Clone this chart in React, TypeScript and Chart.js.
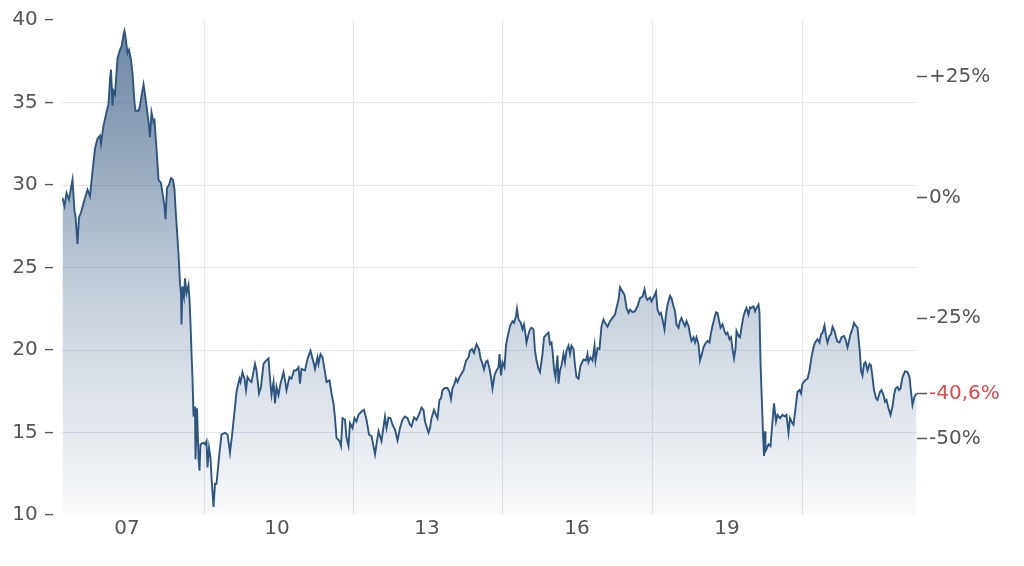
import { useEffect, useRef } from "react";
import Chart from "chart.js/auto";

// dates as decimal years, prices
const DATES = [
  2005.71, 2005.75, 2005.79, 2005.84, 2005.91, 2005.95, 2005.97, 2006.01, 2006.04, 2006.08,
  2006.15, 2006.21, 2006.26, 2006.31, 2006.36, 2006.41, 2006.46, 2006.48, 2006.53, 2006.56,
  2006.59, 2006.63, 2006.66, 2006.68, 2006.71, 2006.73, 2006.76, 2006.81, 2006.86, 2006.89,
  2006.93, 2006.95, 2006.97, 2007.01, 2007.04, 2007.08, 2007.11, 2007.15, 2007.17, 2007.23,
  2007.26, 2007.29, 2007.33, 2007.36, 2007.39, 2007.44, 2007.46, 2007.49, 2007.53, 2007.55,
  2007.59, 2007.63, 2007.68, 2007.71, 2007.75, 2007.77, 2007.8, 2007.84, 2007.88, 2007.92,
  2007.95, 2007.97, 2008.0, 2008.03, 2008.06, 2008.08, 2008.09, 2008.11, 2008.14, 2008.16,
  2008.19, 2008.23, 2008.25, 2008.27, 2008.29, 2008.31, 2008.33, 2008.36, 2008.37, 2008.4,
  2008.43, 2008.45, 2008.47, 2008.53, 2008.56, 2008.59, 2008.61, 2008.64, 2008.67, 2008.69,
  2008.73, 2008.76, 2008.79, 2008.84, 2008.89, 2008.96, 2009.01, 2009.06, 2009.11, 2009.16,
  2009.19, 2009.25, 2009.27, 2009.31, 2009.35, 2009.38, 2009.41, 2009.45, 2009.49, 2009.56,
  2009.59, 2009.64, 2009.68, 2009.73, 2009.78, 2009.83, 2009.86, 2009.89, 2009.93, 2009.96,
  2009.99, 2010.03, 2010.07, 2010.13, 2010.16, 2010.19, 2010.25, 2010.29, 2010.34, 2010.38,
  2010.43, 2010.46, 2010.49, 2010.56, 2010.61, 2010.67, 2010.73, 2010.76, 2010.81, 2010.83,
  2010.87, 2010.91, 2010.96, 2010.99, 2011.05, 2011.09, 2011.13, 2011.16, 2011.19, 2011.25,
  2011.28, 2011.31, 2011.36, 2011.39, 2011.43, 2011.46, 2011.51, 2011.55, 2011.59, 2011.63,
  2011.69, 2011.74, 2011.79, 2011.84, 2011.89, 2011.93, 2011.96, 2011.99, 2012.03, 2012.09,
  2012.16, 2012.19, 2012.23, 2012.27, 2012.31, 2012.36, 2012.41, 2012.46, 2012.51, 2012.56,
  2012.61, 2012.66, 2012.69, 2012.74, 2012.79, 2012.85, 2012.89, 2012.93, 2012.96, 2013.03,
  2013.06, 2013.09, 2013.14, 2013.18, 2013.21, 2013.25, 2013.28, 2013.31, 2013.36, 2013.41,
  2013.45, 2013.48, 2013.51, 2013.54, 2013.58, 2013.61, 2013.65, 2013.69, 2013.73, 2013.78,
  2013.83, 2013.86, 2013.9, 2013.94, 2013.99, 2014.04, 2014.07, 2014.11, 2014.14, 2014.18,
  2014.21, 2014.25, 2014.28, 2014.31, 2014.35, 2014.39, 2014.43, 2014.45, 2014.48, 2014.51,
  2014.55, 2014.58, 2014.61, 2014.66, 2014.71, 2014.74, 2014.78, 2014.8, 2014.83, 2014.87,
  2014.91, 2014.94, 2014.97, 2014.99, 2015.03, 2015.06, 2015.09, 2015.13, 2015.16, 2015.19,
  2015.23, 2015.26, 2015.31, 2015.34, 2015.39, 2015.43, 2015.46, 2015.49, 2015.51, 2015.54,
  2015.57, 2015.61, 2015.63, 2015.66, 2015.69, 2015.73, 2015.76, 2015.79, 2015.83, 2015.86,
  2015.89, 2015.93, 2015.96, 2015.99, 2016.03, 2016.07, 2016.13, 2016.18, 2016.21, 2016.23,
  2016.27, 2016.31, 2016.35, 2016.37, 2016.41, 2016.45, 2016.49, 2016.53, 2016.56, 2016.61,
  2016.66, 2016.71, 2016.76, 2016.79, 2016.83, 2016.86, 2016.91, 2016.95, 2016.99, 2017.03,
  2017.06, 2017.11, 2017.16, 2017.21, 2017.26, 2017.31, 2017.35, 2017.38, 2017.41, 2017.46,
  2017.49, 2017.54, 2017.58, 2017.61, 2017.65, 2017.68, 2017.71, 2017.75, 2017.78, 2017.81,
  2017.86, 2017.89, 2017.93, 2017.96, 2017.99, 2018.03, 2018.06, 2018.09, 2018.13, 2018.16,
  2018.19, 2018.23, 2018.26, 2018.29, 2018.33, 2018.36, 2018.39, 2018.43, 2018.46, 2018.49,
  2018.53, 2018.56, 2018.61, 2018.65, 2018.68, 2018.71, 2018.75, 2018.78, 2018.81, 2018.85,
  2018.87, 2018.91, 2018.95, 2018.98, 2019.01, 2019.05, 2019.08, 2019.11, 2019.14, 2019.17,
  2019.19, 2019.23, 2019.26, 2019.29, 2019.33, 2019.36, 2019.39, 2019.43, 2019.46, 2019.49,
  2019.53, 2019.56, 2019.59, 2019.63, 2019.65, 2019.67, 2019.7, 2019.72, 2019.74, 2019.76,
  2019.77, 2019.79, 2019.83, 2019.87, 2019.91, 2019.94, 2019.98, 2020.01, 2020.06, 2020.11,
  2020.16, 2020.19, 2020.23, 2020.26, 2020.29, 2020.33, 2020.37, 2020.41, 2020.45, 2020.48,
  2020.51, 2020.56, 2020.61, 2020.65, 2020.69, 2020.73, 2020.76, 2020.81, 2020.85, 2020.88,
  2020.91, 2020.95, 2020.98, 2021.01, 2021.05, 2021.08, 2021.11, 2021.15, 2021.18, 2021.21,
  2021.25, 2021.29, 2021.34, 2021.37, 2021.41, 2021.44, 2021.47, 2021.51, 2021.54, 2021.57,
  2021.61, 2021.64, 2021.66, 2021.68, 2021.71, 2021.74, 2021.77, 2021.81, 2021.85, 2021.88,
  2021.91, 2021.94, 2021.98, 2022.01, 2022.06, 2022.09, 2022.13, 2022.16, 2022.19, 2022.23,
  2022.27, 2022.31, 2022.34, 2022.37, 2022.41, 2022.44, 2022.47, 2022.51, 2022.56, 2022.61,
  2022.65, 2022.68, 2022.71, 2022.75, 2022.79,
];

const PRICES = [
  29.22, 28.72, 29.52, 29.12, 30.32, 28.42, 28.12, 26.43, 28.03, 28.33,
  29.12, 29.72, 29.32, 30.81, 32.21, 32.81, 33.0, 32.51, 33.6, 34.0,
  34.4, 34.9, 36.4, 36.99, 34.8, 35.7, 35.5, 37.69, 38.19, 38.39,
  39.09, 39.34, 38.98, 37.99, 38.19, 37.59, 36.79, 35.0, 34.5, 34.5,
  34.8, 35.4, 36.1, 35.5, 34.8, 33.6, 32.9, 34.4, 33.8, 33.9,
  32.2, 30.32, 30.12, 29.52, 28.72, 27.93, 29.82, 30.02, 30.42, 30.32,
  29.72, 28.62, 27.23, 25.83, 24.04, 23.44, 21.55, 23.84, 23.25, 24.34,
  23.44, 23.94, 23.04, 21.65, 19.86, 18.26, 15.97, 16.57, 13.38, 16.47,
  13.48, 12.68, 14.28, 14.38, 14.28, 14.48, 12.88, 14.08, 13.48, 12.28,
  10.49, 11.89, 11.89, 13.48, 14.88, 14.98, 14.88, 13.78, 15.08, 16.57,
  17.47, 18.26, 18.06, 18.66, 18.26, 17.57, 18.36, 18.16, 18.06, 19.16,
  18.76, 17.37, 17.76, 19.16, 19.36, 19.5, 18.26, 17.27, 18.06, 16.77,
  17.76, 17.27, 17.96, 18.66, 18.16, 17.57, 18.36, 18.26, 18.76, 18.76,
  18.96, 17.96, 18.86, 18.76, 19.46, 19.96, 19.26, 18.86, 19.56, 19.16,
  19.76, 19.56, 18.66, 18.06, 18.16, 17.37, 16.77, 15.87, 14.68, 14.48,
  14.18, 15.87, 15.77, 14.68, 14.18, 15.57, 15.27, 15.87, 15.67, 16.07,
  16.27, 16.37, 15.77, 14.88, 14.78, 14.18, 13.68, 14.28, 15.08, 14.48,
  15.97, 15.27, 15.91, 15.87, 15.47, 15.17, 14.52, 15.27, 15.77, 15.97,
  15.87, 15.47, 15.37, 15.91, 15.77, 16.17, 16.51, 16.37, 15.67, 14.98,
  15.27, 15.87, 16.37, 16.07, 15.87, 16.97, 17.07, 17.57, 17.7, 17.7,
  17.47, 17.03, 17.67, 17.87, 18.26, 18.06, 18.36, 18.56, 18.76, 19.36,
  19.56, 19.96, 20.06, 19.82, 20.35, 20.06, 19.5, 19.16, 18.82, 19.3,
  19.36, 18.86, 18.36, 17.67, 18.46, 18.76, 18.96, 19.76, 18.46, 19.26,
  18.96, 20.26, 20.77, 21.45, 21.75, 21.65, 22.05, 22.49, 21.85, 21.69,
  21.25, 21.55, 20.95, 20.45, 20.95, 21.25, 21.35, 21.25, 19.96, 19.36,
  18.86, 18.66, 19.76, 20.77, 20.95, 21.05, 20.35, 20.45, 19.96, 18.86,
  18.36, 19.66, 17.96, 18.76, 19.06, 19.76, 19.26, 19.96, 20.26, 19.76,
  20.26, 20.06, 19.06, 18.36, 18.26, 19.06, 19.42, 19.36, 19.76, 19.26,
  19.56, 19.36, 20.26, 19.36, 20.1, 20.06, 21.45, 21.85, 21.65, 21.41,
  21.75, 21.95, 22.15, 22.55, 23.04, 23.8, 23.54, 23.34, 22.55, 22.25,
  22.45, 22.29, 22.35, 22.65, 23.14, 23.24, 23.68, 23.2, 23.04, 23.19,
  22.95, 23.24, 23.54, 22.45, 22.15, 22.25, 21.85, 21.25, 22.15, 22.75,
  23.28, 23.14, 22.65, 22.35, 21.55, 21.35, 21.75, 21.95, 21.65, 21.45,
  21.75, 21.45, 20.95, 20.55, 20.77, 20.45, 20.77, 20.35, 19.36, 19.66,
  20.16, 20.35, 20.55, 20.45, 21.05, 21.45, 21.95, 22.29, 22.25, 21.65,
  21.35, 21.55, 21.15, 20.95, 21.05, 20.65, 20.77, 20.06, 19.5, 20.06,
  21.15, 20.85, 20.77, 21.35, 22.05, 22.35, 22.55, 22.15, 22.59, 22.55,
  22.65, 22.35, 22.55, 22.75, 22.25, 19.26, 16.67, 14.88, 13.58, 15.08,
  13.88, 14.0, 14.28, 14.18, 15.67, 16.77, 15.67, 16.07, 15.87, 16.07,
  15.97, 16.07, 14.98, 15.87, 15.67, 15.47, 16.47, 17.47, 17.57, 17.37,
  17.96, 18.16, 18.26, 18.76, 19.56, 20.16, 20.45, 20.65, 20.45, 20.95,
  21.05, 21.49, 20.85, 20.45, 20.85, 20.95, 21.41, 21.15, 20.77, 20.5,
  20.45, 20.77, 20.85, 20.65, 20.16, 20.55, 20.95, 21.29, 21.65, 21.49,
  21.35, 20.45, 19.76, 18.76, 18.46, 19.16, 19.26, 18.76, 19.16, 19.06,
  18.36, 17.57, 17.07, 16.97, 17.47, 17.57, 17.27, 16.87, 16.97, 16.47,
  16.07, 16.57, 17.27, 17.67, 17.76, 17.57, 17.67, 18.36, 18.7, 18.66,
  18.36, 17.47, 16.67, 17.17, 17.37,
];

const BASE_PRICE = 29.24; // the 0% level on the right axis
const LABEL_YEARS = [2007, 2010, 2013, 2016, 2019];
const GRID_YEARS = [2008.56, 2011.54, 2014.52, 2017.51, 2020.5];
const CHANGE_TICKS = [25, 0, -25, -50];
const X_MIN = 2005.7;
const X_MAX = 2022.8;
const Y_MIN = 10;
const Y_MAX = 40;

const TEXT = "#555555";
const RED = "#e5474f";
const GRID = "#e4e7eb";
const FONT = { family: "'DejaVu Sans', Verdana, sans-serif", size: 20 };

const pct = (v: number) => (v / BASE_PRICE - 1) * 100;
const LAST_CHANGE = Number(pct(PRICES[PRICES.length - 1]).toFixed(1));

function fmtPct(v: number) {
  const s = Number.isInteger(v) ? String(v) : v.toFixed(1).replace(".", ",");
  return (v > 0 ? "+" : "") + s + "%";
}

export default function App() {
  const canvasRef = useRef<HTMLCanvasElement>(null);
  const chartRef = useRef<Chart | null>(null);

  useEffect(() => {
    if (!canvasRef.current) return;

    const points = DATES.map((d, i) => ({ x: d, y: PRICES[i] }));

    chartRef.current = new Chart(canvasRef.current, {
      type: "line",
      data: {
        datasets: [
          {
            data: points,
            xAxisID: "x",
            yAxisID: "y",
            borderColor: "#2d5580",
            borderWidth: 1.9,
            pointRadius: 0,
            tension: 0,
            fill: "start",
            backgroundColor: (ctx: any) => {
              const area = ctx.chart.chartArea;
              if (!area) return "rgba(50,85,125,0.3)";
              const g = ctx.chart.ctx.createLinearGradient(0, area.top, 0, area.bottom);
              g.addColorStop(0, "rgba(50,85,125,0.72)");
              g.addColorStop(0.17, "rgba(50,85,125,0.6)");
              g.addColorStop(0.57, "rgba(50,85,125,0.27)");
              g.addColorStop(0.83, "rgba(50,85,125,0.13)");
              g.addColorStop(1, "rgba(50,85,125,0.03)");
              return g;
            },
          },
        ],
      },
      options: {
        animation: false,
        responsive: true,
        maintainAspectRatio: false,
        layout: { padding: { top: 13, left: 0, right: 0, bottom: 0 } },
        plugins: {
          legend: { display: false },
          tooltip: { enabled: false },
        },
        scales: {
          x: {
            type: "linear",
            position: "bottom",
            min: X_MIN,
            max: X_MAX,
            afterBuildTicks: (axis: any) => {
              axis.ticks = LABEL_YEARS.map((v) => ({ value: v }));
            },
            afterFit: (axis: any) => {
              axis.height = 51;
            },
            grid: { display: false, drawTicks: false },
            border: { display: false },
            ticks: {
              autoSkip: false,
              maxRotation: 0,
              padding: 2,
              color: TEXT,
              font: FONT,
              callback: (v: any) => String(v).slice(2),
            },
          },
          xg: {
            type: "linear",
            position: "top",
            min: X_MIN,
            max: X_MAX,
            afterBuildTicks: (axis: any) => {
              axis.ticks = GRID_YEARS.map((v) => ({ value: v }));
            },
            afterFit: (axis: any) => {
              axis.height = 0;
            },
            grid: { color: GRID, lineWidth: 1, drawTicks: false },
            border: { display: false },
            ticks: { display: false },
          },
          y: {
            type: "linear",
            position: "left",
            min: Y_MIN,
            max: Y_MAX,
            afterFit: (axis: any) => {
              axis.width = 62;
            },
            grid: {
              drawTicks: false,
              color: (ctx: any) =>
                ctx.tick && (ctx.tick.value === Y_MIN || ctx.tick.value === Y_MAX) ? "rgba(0,0,0,0)" : GRID,
            },
            border: { display: false },
            ticks: {
              stepSize: 5,
              padding: 8,
              color: TEXT,
              font: FONT,
              callback: (v: any) => `${v} –`,
            },
          },
          yr: {
            type: "linear",
            position: "right",
            min: pct(Y_MIN),
            max: pct(Y_MAX),
            afterBuildTicks: (axis: any) => {
              axis.ticks = [...CHANGE_TICKS, LAST_CHANGE].sort((a, b) => a - b).map((v) => ({ value: v }));
            },
            afterFit: (axis: any) => {
              axis.width = 107;
            },
            grid: {
              drawOnChartArea: false,
              drawTicks: true,
              tickLength: 10,
              tickColor: TEXT,
              tickWidth: 1.5,
            },
            border: { display: false },
            ticks: {
              autoSkip: false,
              padding: 2,
              font: FONT,
              color: (ctx: any) => (ctx.tick && ctx.tick.value === LAST_CHANGE ? RED : TEXT),
              callback: (v: any) => fmtPct(Number(v)),
            },
          },
        },
      },
    } as any);

    return () => {
      if (chartRef.current) {
        chartRef.current.destroy();
        chartRef.current = null;
      }
    };
  }, []);

  return (
    <div style={{ position: "absolute", left: 0, top: 0, width: 1024, height: 566, background: "#fff" }}>
      <canvas ref={canvasRef} />
    </div>
  );
}
